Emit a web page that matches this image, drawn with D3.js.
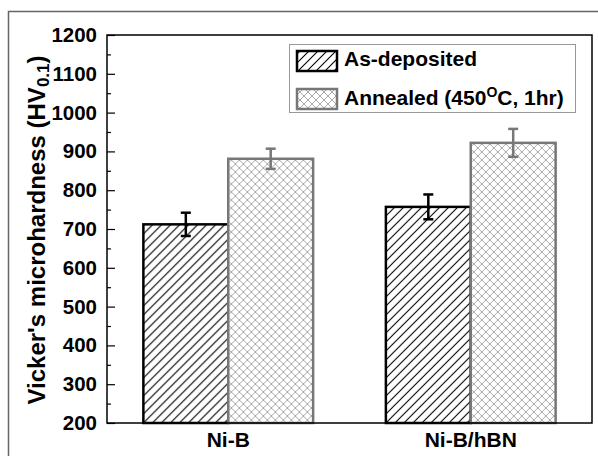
<!DOCTYPE html>
<html>
<head>
<meta charset="utf-8">
<script src="https://cdn.jsdelivr.net/npm/d3@7"></script>
<style>
  body { margin: 0; background: #fff; }
  svg { display: block; font-family: "Liberation Sans", Arial, sans-serif; font-weight: bold; }
</style>
</head>
<body>
<svg id="chart" width="598" height="456"></svg>
<script>
// data
const categories = ["Ni-B", "Ni-B/hBN"];
const asDeposited = [712, 757];
const asDepositedErr = [30, 32];
const annealed = [881, 922];
const annealedErr = [26, 36];
const yTicks = [200, 300, 400, 500, 600, 700, 800, 900, 1000, 1100, 1200];
const yMinorTicks = [250, 350, 450, 550, 650, 750, 850, 950, 1050, 1150];

const svg = d3.select("#chart");
const margin = { left: 107, right: 6, top: 35, bottom: 33 };
const width = 598, height = 456;

// outer frame of the picture (cut by the right/bottom edges)
svg.append("rect")
  .attr("x", 8.5).attr("y", 11.5)
  .attr("width", 600).attr("height", 460)
  .attr("fill", "none").attr("stroke", "#666").attr("stroke-width", 1.5);

const x = d3.scaleBand()
  .domain(categories)
  .range([margin.left, width - margin.right])
  .paddingInner(0.3)
  .paddingOuter(0.15);

const x1 = d3.scaleBand()
  .domain(["dep", "ann"])
  .range([0, x.bandwidth()]);

const y = d3.scaleLinear()
  .domain([200, 1200])
  .range([height - margin.bottom, margin.top]);

// hatch patterns
const defs = svg.append("defs");
const diag = defs.append("pattern")
  .attr("id", "diag").attr("patternUnits", "userSpaceOnUse")
  .attr("width", 9).attr("height", 9);
diag.append("rect").attr("width", 9).attr("height", 9).attr("fill", "#fff");
diag.append("path")
  .attr("d", "M0,9 L9,0 M-2,2 L2,-2 M7,11 L11,7")
  .attr("stroke", "#000").attr("stroke-width", 1.1);

const cross = defs.append("pattern")
  .attr("id", "cross").attr("patternUnits", "userSpaceOnUse")
  .attr("width", 8).attr("height", 8);
cross.append("rect").attr("width", 8).attr("height", 8).attr("fill", "#fff");
cross.append("path")
  .attr("d", "M0,8 L8,0 M-2,2 L2,-2 M6,10 L10,6 M0,0 L8,8 M-2,6 L2,10 M6,-2 L10,2")
  .attr("stroke", "#aaa").attr("stroke-width", 1);

// bars
const groups = svg.selectAll("g.grp")
  .data(categories)
  .enter().append("g")
  .attr("class", "grp")
  .attr("transform", d => `translate(${x(d)},0)`);

groups.append("rect")
  .attr("x", x1("dep"))
  .attr("y", (d, i) => y(asDeposited[i]))
  .attr("width", x1.bandwidth())
  .attr("height", (d, i) => y(200) - y(asDeposited[i]))
  .attr("fill", "url(#diag)")
  .attr("stroke", "#000").attr("stroke-width", 2.5);

groups.append("rect")
  .attr("x", x1("ann"))
  .attr("y", (d, i) => y(annealed[i]))
  .attr("width", x1.bandwidth())
  .attr("height", (d, i) => y(200) - y(annealed[i]))
  .attr("fill", "url(#cross)")
  .attr("stroke", "#777").attr("stroke-width", 2.5);

// error bars
function errorBar(g, key, vals, errs, color) {
  const cx = x1(key) + x1.bandwidth() / 2;
  g.each(function(d, i) {
    const e = d3.select(this).append("g")
      .attr("stroke", color).attr("stroke-width", 2.5);
    const top = y(vals[i] + errs[i]), bot = y(vals[i] - errs[i]);
    e.append("line").attr("x1", cx).attr("x2", cx).attr("y1", top).attr("y2", bot);
    e.append("line").attr("x1", cx - 5).attr("x2", cx + 5).attr("y1", top).attr("y2", top);
    e.append("line").attr("x1", cx - 5).attr("x2", cx + 5).attr("y1", bot).attr("y2", bot);
  });
}
errorBar(groups, "dep", asDeposited, asDepositedErr, "#000");
errorBar(groups, "ann", annealed, annealedErr, "#777");

// plot frame
svg.append("rect")
  .attr("x", margin.left).attr("y", margin.top)
  .attr("width", width - margin.right - margin.left)
  .attr("height", y(200) - margin.top)
  .attr("fill", "none").attr("stroke", "#000").attr("stroke-width", 1.5);

// y axis, ticks pointing inward
const yAxis = svg.append("g")
  .attr("transform", `translate(${margin.left},0)`)
  .call(d3.axisLeft(y).tickValues(yTicks).tickFormat(d3.format("d"))
    .tickSizeInner(-8).tickSizeOuter(0).tickPadding(10));
yAxis.select(".domain").remove();
yAxis.selectAll("line").attr("stroke-width", 1.2);
yAxis.selectAll("text")
  .attr("font-size", 20.5).attr("font-weight", "bold").attr("fill", "#000")
  .attr("font-family", "Liberation Sans, Arial, sans-serif");

const yMinor = svg.append("g")
  .attr("transform", `translate(${margin.left},0)`)
  .call(d3.axisLeft(y).tickValues(yMinorTicks).tickSizeInner(-4).tickSizeOuter(0).tickFormat(""));
yMinor.select(".domain").remove();
yMinor.selectAll("line").attr("stroke-width", 1.2);

// x labels
svg.selectAll("text.xlab")
  .data(categories)
  .enter().append("text")
  .attr("class", "xlab")
  .attr("x", d => x(d) + x.bandwidth() / 2)
  .attr("y", 446.5)
  .attr("text-anchor", "middle")
  .attr("font-size", 21)
  .text(d => d);

// y title
const yt = svg.append("text")
  .attr("transform", "translate(45,230) rotate(-90)")
  .attr("text-anchor", "middle")
  .attr("font-size", 24);
yt.append("tspan").text("Vicker's microhardness (HV");
yt.append("tspan").attr("font-size", 17).attr("dy", 4).text("0.1");
yt.append("tspan").attr("dy", -4).text(")");

// legend
const lg = svg.append("g");
lg.append("rect")
  .attr("x", 289.5).attr("y", 44.5).attr("width", 286).attr("height", 68)
  .attr("fill", "#fff").attr("stroke", "#999").attr("stroke-width", 1);
lg.append("rect")
  .attr("x", 297).attr("y", 51).attr("width", 40).attr("height", 20)
  .attr("fill", "url(#diag)").attr("stroke", "#000").attr("stroke-width", 2.5);
lg.append("rect")
  .attr("x", 297).attr("y", 89).attr("width", 40).attr("height", 20)
  .attr("fill", "url(#cross)").attr("stroke", "#777").attr("stroke-width", 2.5);
lg.append("text")
  .attr("x", 344).attr("y", 66).attr("font-size", 21)
  .text("As-deposited");
const t2 = lg.append("text")
  .attr("x", 344).attr("y", 104.5).attr("font-size", 21);
t2.append("tspan").text("Annealed (450");
t2.append("tspan").attr("font-size", 14).attr("dy", -8).text("O");
t2.append("tspan").attr("dy", 8).text("C, 1hr)");
</script>
</body>
</html>
